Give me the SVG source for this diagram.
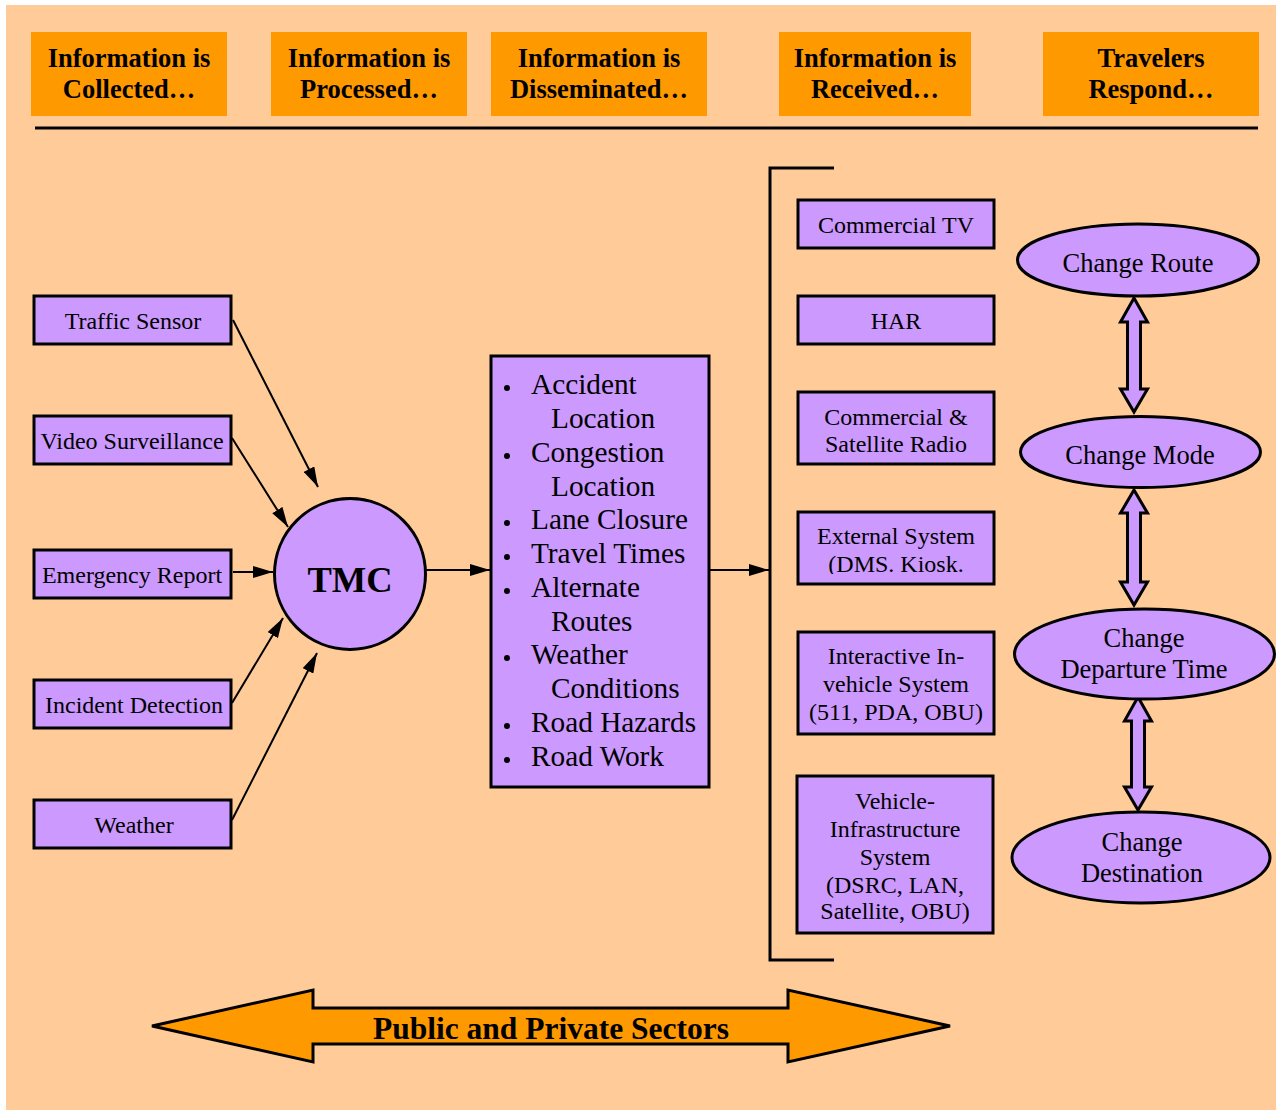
<svg xmlns="http://www.w3.org/2000/svg" width="1276" height="1111" viewBox="0 0 1276 1111">
<defs>
<style>
.hdr{fill:#FF9900;stroke:none}
.ht{font-family:"Liberation Serif",serif;font-weight:bold;font-size:26.5px;text-anchor:middle;fill:#000}
.box{fill:#CC99FF;stroke:#000;stroke-width:3}
.t{font-family:"Liberation Serif",serif;font-size:24px;text-anchor:middle;fill:#000}
.te{font-family:"Liberation Serif",serif;font-size:26.5px;text-anchor:middle;fill:#000}
.tl{font-family:"Liberation Serif",serif;font-size:29.3px;fill:#000}
.ln{stroke:#000;stroke-width:2;fill:none}
.dbl{fill:#CC99FF;stroke:#000;stroke-width:3;stroke-linejoin:miter}
</style>
<marker id="ah" viewBox="0 0 20 12" refX="20" refY="6" markerWidth="20" markerHeight="12" markerUnits="userSpaceOnUse" orient="auto">
<path d="M0,0 L20,6 L0,12 Z" fill="#000"/>
</marker>
<clipPath id="clipExt"><rect x="799" y="514" width="194" height="60"/></clipPath>
</defs>
<rect x="0" y="0" width="1276" height="1111" fill="#FFFFFF"/>
<rect x="6" y="5" width="1270" height="1105" fill="#FFCC99"/>

<g id="headers">
<g id="h1"><rect class="hdr" x="31" y="32" width="196" height="84"/><text class="ht" x="129" y="67">Information is</text><text class="ht" x="129" y="98">Collected…</text></g>
<g id="h2"><rect class="hdr" x="271" y="32" width="196" height="84"/><text class="ht" x="369" y="67">Information is</text><text class="ht" x="369" y="98">Processed…</text></g>
<g id="h3"><rect class="hdr" x="491" y="32" width="216" height="84"/><text class="ht" x="599" y="67">Information is</text><text class="ht" x="599" y="98">Disseminated…</text></g>
<g id="h4"><rect class="hdr" x="779" y="32" width="192" height="84"/><text class="ht" x="875" y="67">Information is</text><text class="ht" x="875" y="98">Received…</text></g>
<g id="h5"><rect class="hdr" x="1043" y="32" width="216" height="84"/><text class="ht" x="1151" y="67">Travelers</text><text class="ht" x="1151" y="98">Respond…</text></g>
<line x1="35" y1="128" x2="1258" y2="128" stroke="#000" stroke-width="3"/>
</g>

<g id="connectors">
<line class="ln" x1="233" y1="320" x2="318" y2="487" marker-end="url(#ah)"/>
<line class="ln" x1="232" y1="438" x2="288" y2="527" marker-end="url(#ah)"/>
<line class="ln" x1="233" y1="572" x2="273" y2="572" marker-end="url(#ah)"/>
<line class="ln" x1="232" y1="703" x2="283" y2="618" marker-end="url(#ah)"/>
<line class="ln" x1="232" y1="820" x2="317" y2="653" marker-end="url(#ah)"/>
<line class="ln" x1="426" y1="570" x2="490" y2="570" marker-end="url(#ah)"/>
<line class="ln" x1="707" y1="570" x2="769" y2="570" marker-end="url(#ah)"/>
<polyline points="834,168 770,168 770,960 834,960" fill="none" stroke="#000" stroke-width="3"/>
<polygon class="dbl" points="1134,298 1147.5,322 1140.5,322 1140.5,389 1147.5,389 1134,412 1120.5,389 1127.5,389 1127.5,322 1120.5,322"/>
<polygon class="dbl" points="1134,490 1147.5,513 1140.5,513 1140.5,582 1147.5,582 1134,605 1120.5,582 1127.5,582 1127.5,513 1120.5,513"/>
<polygon class="dbl" points="1138,697 1151.5,721 1144.5,721 1144.5,787 1151.5,787 1138,810 1124.5,787 1131.5,787 1131.5,721 1124.5,721"/>
</g>

<g id="sources">
<g id="traffic-sensor"><rect class="box" x="34" y="296" width="197" height="48"/><text class="t" x="133" y="329">Traffic Sensor</text></g>
<g id="video-surveillance"><rect class="box" x="34" y="416" width="197" height="48"/><text class="t" x="132" y="449">Video Surveillance</text></g>
<g id="emergency-report"><rect class="box" x="34" y="550" width="197" height="48"/><text class="t" x="132" y="583">Emergency Report</text></g>
<g id="incident-detection"><rect class="box" x="34" y="680" width="197" height="48"/><text class="t" x="134" y="713">Incident Detection</text></g>
<g id="weather"><rect class="box" x="34" y="800" width="197" height="48"/><text class="t" x="134" y="833">Weather</text></g>
</g>

<g id="tmc">
<circle cx="350" cy="574" r="75.5" fill="#CC99FF" stroke="#000" stroke-width="3"/>
<text x="350" y="592" font-family="Liberation Serif, serif" font-weight="bold" font-size="36.5" text-anchor="middle">TMC</text>
</g>

<g id="info-list">
<rect class="box" x="491" y="356" width="218" height="431"/>
<g fill="#000">
<circle cx="507" cy="388" r="3"/><circle cx="507" cy="456" r="3"/><circle cx="507" cy="523" r="3"/><circle cx="507" cy="557" r="3"/><circle cx="507" cy="591" r="3"/><circle cx="507" cy="658" r="3"/><circle cx="507" cy="726" r="3"/><circle cx="507" cy="760" r="3"/>
</g>
<text class="tl" x="531" y="394">Accident</text>
<text class="tl" x="551" y="428">Location</text>
<text class="tl" x="531" y="462">Congestion</text>
<text class="tl" x="551" y="496">Location</text>
<text class="tl" x="531" y="529">Lane Closure</text>
<text class="tl" x="531" y="563">Travel Times</text>
<text class="tl" x="531" y="597">Alternate</text>
<text class="tl" x="551" y="631">Routes</text>
<text class="tl" x="531" y="664">Weather</text>
<text class="tl" x="551" y="698">Conditions</text>
<text class="tl" x="531" y="732">Road Hazards</text>
<text class="tl" x="531" y="766">Road Work</text>
</g>

<g id="media">
<g id="commercial-tv"><rect class="box" x="798" y="200" width="196" height="48"/><text class="t" x="896" y="233">Commercial TV</text></g>
<g id="har"><rect class="box" x="798" y="296" width="196" height="48"/><text class="t" x="896" y="329">HAR</text></g>
<g id="radio"><rect class="box" x="798" y="392" width="196" height="72"/><text class="t" x="896" y="425">Commercial &amp;</text><text class="t" x="896" y="452">Satellite Radio</text></g>
<g id="external"><rect class="box" x="798" y="512" width="196" height="72"/><text class="t" x="896" y="544">External System</text><text class="t" x="896" y="572" clip-path="url(#clipExt)">(DMS. Kiosk.</text></g>
<g id="interactive"><rect class="box" x="798" y="632" width="196" height="102"/><text class="t" x="896" y="664">Interactive In-</text><text class="t" x="896" y="692">vehicle System</text><text class="t" x="896" y="720">(511, PDA, OBU)</text></g>
<g id="v2i"><rect class="box" x="797" y="776" width="196" height="157"/><text class="t" x="895" y="809">Vehicle-</text><text class="t" x="895" y="837">Infrastructure</text><text class="t" x="895" y="865">System</text><text class="t" x="895" y="893">(DSRC, LAN,</text><text class="t" x="895" y="919">Satellite, OBU)</text></g>
</g>

<g id="responses">
<g id="change-route"><ellipse cx="1138" cy="260" rx="120.5" ry="36" fill="#CC99FF" stroke="#000" stroke-width="3"/><text class="te" x="1138" y="272">Change Route</text></g>
<g id="change-mode"><ellipse cx="1140.5" cy="452" rx="120" ry="35.5" fill="#CC99FF" stroke="#000" stroke-width="3"/><text class="te" x="1140" y="464">Change Mode</text></g>
<g id="change-departure"><ellipse cx="1144.5" cy="654" rx="130" ry="45" fill="#CC99FF" stroke="#000" stroke-width="3"/><text class="te" x="1144" y="647">Change</text><text class="te" x="1144" y="678">Departure Time</text></g>
<g id="change-destination"><ellipse cx="1141" cy="857.5" rx="129" ry="45.5" fill="#CC99FF" stroke="#000" stroke-width="3"/><text class="te" x="1142" y="851">Change</text><text class="te" x="1142" y="882">Destination</text></g>
</g>

<g id="sectors">
<polygon points="152,1026 313,990 313,1008 788,1008 788,990 950,1026 788,1062 788,1044 313,1044 313,1062" fill="#FF9900" stroke="#000" stroke-width="3"/>
<text x="551" y="1039" font-family="Liberation Serif, serif" font-weight="bold" font-size="31.5" text-anchor="middle">Public and Private Sectors</text>
</g>
</svg>
